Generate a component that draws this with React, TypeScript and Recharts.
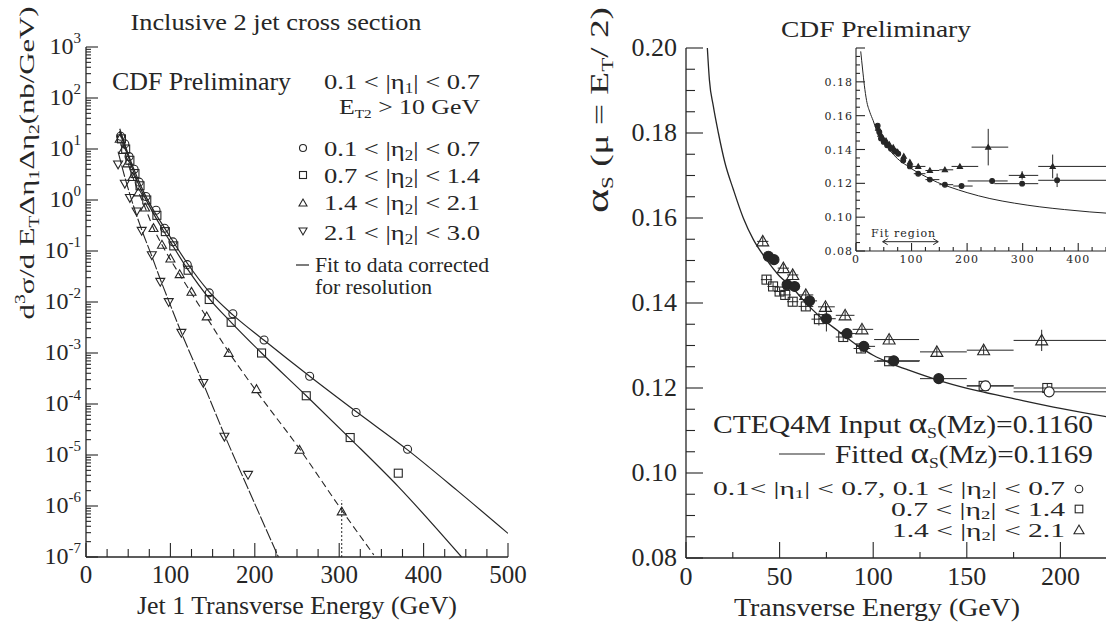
import React from "react";
import { ComposedChart, Scatter, Line, XAxis, YAxis, ErrorBar, ReferenceLine } from "recharts";

const SERIF = '"Liberation Serif", "Times New Roman", serif';
const INSET_FONT = '"DejaVu Serif", serif';
const INK = "#262626";

// ---------- left panel: inclusive 2 jet cross section (nb/GeV) vs jet 1 ET (GeV) ----------
const c1E = [41, 46, 51, 57, 63, 71, 83, 93, 103, 120, 146, 174, 211, 265, 320, 381];
const c1V = [17.8, 12.6, 7.1, 4.0, 2.24, 1.17, 0.63, 0.28, 0.151, 0.054, 0.0151, 5.9e-3, 1.8e-3, 3.5e-4, 6.8e-5, 1.3e-5];
const c2E = [42, 47, 52, 58, 64, 72, 84, 94, 104, 121, 146, 172, 208, 261, 313, 370];
const c2V = [15.8, 10, 6.0, 3.3, 1.9, 1.0, 0.5, 0.24, 0.126, 0.042, 0.0112, 4.0e-3, 1.0e-3, 1.45e-4, 2.2e-5, 4.4e-6];
const c3E = [40, 44, 49, 55, 62, 70, 80, 90, 100, 111, 125, 143, 169, 202, 253, 303];
const c3V = [15.8, 9.5, 5.2, 2.8, 1.4, 0.71, 0.28, 0.132, 0.071, 0.035, 0.0158, 5.2e-3, 1.0e-3, 1.95e-4, 1.26e-5, 7.8e-7];
const c3Err = [0, 0, 0, 0, 0, 0, 0, 0, 0, 0, 0, 0, 0, 0, 0, [6.8e-7, 5e-7]];
const c4E = [38, 46, 52, 60, 66, 78, 88, 98, 113, 139, 164, 192];
const c4V = [5.0, 2.1, 1.1, 0.6, 0.25, 0.083, 0.025, 0.01, 2.5e-3, 2.6e-4, 2.3e-5, 4.1e-6];

// fits
const f1E = [40, 50, 60, 70, 80, 90, 100, 120, 146, 174, 211, 265, 320, 381, 440, 500];
const f1V = [25, 7.9, 2.95, 1.26, 0.63, 0.34, 0.186, 0.0575, 0.0158, 5.6e-3, 1.78e-3, 3.5e-4, 7.1e-5, 1.26e-5, 2.0e-6, 2.9e-7];
const f2E = [40, 50, 60, 70, 80, 90, 100, 120, 146, 172, 208, 261, 313, 370, 445];
const f2V = [22.4, 7.1, 2.5, 1.1, 0.54, 0.28, 0.151, 0.045, 0.0117, 4.0e-3, 1.0e-3, 1.45e-4, 2.1e-5, 2.4e-6, 1.0e-7];
const f3E = [40, 50, 60, 70, 80, 90, 100, 115, 143, 169, 202, 253, 303, 341];
const f3V = [22.4, 5.2, 1.78, 0.71, 0.28, 0.132, 0.068, 0.027, 5.0e-3, 1.05e-3, 1.78e-4, 1.32e-5, 8.3e-7, 1.1e-7];
const f4E = [38, 46, 55, 66, 78, 88, 98, 113, 139, 164, 192, 228];
const f4V = [8.9, 2.8, 0.89, 0.26, 0.079, 0.028, 0.0105, 2.5e-3, 2.5e-4, 2.5e-5, 2.2e-6, 1.0e-7];

// ---------- right panel: alpha_s(mu = ET/2) vs ET (GeV) ----------
const rCircE = [44, 47, 54, 58, 66, 75, 86, 95, 111, 135, 160, 194];
const rCircA = [0.151, 0.1502, 0.1443, 0.1439, 0.1405, 0.1363, 0.1328, 0.1298, 0.1264, 0.1222, 0.1205, 0.1191];
const rCircEx = [[2, 2], [2, 2], [2, 3], [2, 3], [3, 4], [4, 5], [4, 5], [4, 6], [9, 14], [10, 15], [10, 15], [19, 56]];
const rCircEy = [0.001, 0.001, 0.001, 0.001, 0.001, 0.003, 0.001, 0.001, 0.0008, 0.0008, 0.0008, 0.001];
const rSqE = [43, 46.5, 50, 53, 57, 64, 71, 84, 93.5, 108.5, 159, 193];
const rSqA = [0.1455, 0.1439, 0.1427, 0.1419, 0.1403, 0.1392, 0.1362, 0.132, 0.1293, 0.1263, 0.1205, 0.12];
const rSqEx = [[3, 3], [3, 3], [3, 3], [3, 3], [3, 3], [4, 4], [4, 4], [4, 5], [4, 5], [8, 16], [9, 16], [18, 57]];
const rSqEy = [0.001, 0.001, 0.001, 0.001, 0.001, 0.001, 0.0015, 0.001, 0.001, 0.001, 0.001, 0.001];
const rTriE = [41, 52, 57, 64, 74.5, 85, 94, 108.5, 134, 159, 190];
const rTriA = [0.1545, 0.1482, 0.1466, 0.1419, 0.1391, 0.1371, 0.1338, 0.1314, 0.1285, 0.1289, 0.1312];
const rTriEx = [[3, 3], [3, 3], [3, 3], [4, 4], [4, 5], [5, 5], [5, 6], [8, 16], [9, 16], [9, 16], [15, 60]];
const rTriEy = [0.001, 0.001, 0.001, 0.001, 0.001, 0.001, 0.001, 0.001, 0.001, 0.001, 0.0025];
const rFitE = [11.4, 12.5, 14.6, 17.3, 20.8, 25.3, 30.6, 36, 43, 50, 56, 63, 72, 82, 91, 100, 110, 119, 138, 156, 175, 200, 225, 250];
const rFitA = [0.2, 0.1925, 0.1863, 0.18, 0.173, 0.1667, 0.16, 0.1549, 0.1502, 0.1463, 0.144, 0.1405, 0.1366, 0.1332, 0.1302, 0.1277, 0.1257, 0.1242, 0.1214, 0.1193, 0.1175, 0.1152, 0.1132, 0.1115];

// ---------- inset ----------
const iLowE = [39, 42, 45, 50, 56, 63, 70, 76, 85, 97, 112, 133, 160, 190, 245, 299, 362];
const iLowA = [0.1541, 0.1502, 0.1465, 0.1445, 0.1425, 0.1404, 0.139, 0.1375, 0.1335, 0.13, 0.1257, 0.1222, 0.1192, 0.1184, 0.1214, 0.1198, 0.1218];
const iLowEx = [0, 0, 0, 0, 0, 0, 0, 0, 0, 0, [8, 13], [8, 17], [10, 15], [15, 20], [44, 28], [50, 29], [34, 88]];
const iLowEy = [0, 0, 0, 0, 0, 0, 0, 0, 0, 0, 0, 0, 0, 0.0008, 0.0015, 0.0015, 0.004];
const iUpE = [40, 44, 48, 54, 60, 67, 75, 86, 97, 112, 133, 160, 187, 238, 299, 354];
const iUpA = [0.1525, 0.149, 0.147, 0.1452, 0.143, 0.1412, 0.1385, 0.136, 0.1325, 0.13, 0.1276, 0.128, 0.13, 0.1414, 0.1247, 0.13];
const iUpEx = [0, 0, 0, 0, 0, 0, 0, 0, 0, [10, 13], [8, 17], [10, 15], [15, 33], [30, 36], [24, 29], [26, 96]];
const iUpEy = [0, 0, 0, 0, 0, 0, 0, 0, 0, 0, 0, 0, 0.0008, 0.0108, 0.0025, 0.007];
const iFitE = [8.5, 12, 15, 19, 25, 31, 37, 48, 61, 75, 91, 108, 127, 147, 169, 200, 241, 285, 331, 375, 421, 450];
const iFitA = [0.198, 0.187, 0.178, 0.169, 0.162, 0.157, 0.1512, 0.145, 0.1394, 0.1345, 0.1306, 0.127, 0.1237, 0.1205, 0.1178, 0.1145, 0.111, 0.1083, 0.1061, 0.1045, 0.1031, 0.1024];
const fitRegion = [48, 148];

// axis ticks
const decades = [-7, -6, -5, -4, -3, -2, -1, 0, 1, 2];
const minorSteps = [1, 2, 3, 4, 5, 6, 7, 8, 9];
const logTicks = [...decades.flatMap((d) => minorSteps.map((m) => m * Math.pow(10, d))), 1000];
const leftXTicks = Array.from({ length: 21 }, (_, i) => i * 25);
const rightXTicks = Array.from({ length: 11 }, (_, i) => i * 25);
const insetXTicks = Array.from({ length: 19 }, (_, i) => i * 25);
const alphaTicks = Array.from({ length: 25 }, (_, i) => 0.08 + i * 0.005);

const pts = (xs: number[], ys: number[]) => xs.map((x, i) => ({ x, y: ys[i] }));
const errPts = (xs: number[], ys: number[], ex: any[], ey: any[]) =>
  xs.map((x, i) => ({ x, y: ys[i], ex: ex[i], ey: ey[i] }));

const isDecade = (v: number) => Math.abs(Math.log10(v) - Math.round(Math.log10(v))) < 1e-6;
const isHundred = (v: number) => Math.round(v) % 100 === 0;
const isFifty = (v: number) => Math.round(v) % 50 === 0;
const isAlphaMajor = (v: number) => Math.round(v * 1000) % 20 === 0;

type Side = "left" | "right" | "top" | "bottom";
const axisTick =
  (side: Side, isMajor: (v: number) => boolean, majorLen: number, minorLen: number, label?: (x: number, y: number, v: number) => React.ReactNode) =>
  (props: any) => {
    const { x, y, payload } = props;
    const v = payload.value;
    const major = isMajor(v);
    const len = major ? majorLen : minorLen;
    const dx = side === "left" ? len : side === "right" ? -len : 0;
    const dy = side === "bottom" ? -len : side === "top" ? len : 0;
    return (
      <g>
        <line x1={x} y1={y} x2={x + dx} y2={y + dy} stroke={INK} strokeWidth={1.1} />
        {major && label ? label(x, y, v) : null}
      </g>
    );
  };

// symbols
const circ = (cx: number, cy: number, r: number, fill = "none") => (
  <circle cx={cx} cy={cy} r={r} fill={fill} stroke={INK} strokeWidth={1.1} />
);
const sq = (cx: number, cy: number, h: number) => (
  <rect x={cx - h} y={cy - h} width={2 * h} height={2 * h} fill="none" stroke={INK} strokeWidth={1.1} />
);
const triUp = (cx: number, cy: number, h: number, fill = "none") => (
  <polygon points={`${cx - h},${cy + h * 0.75} ${cx + h},${cy + h * 0.75} ${cx},${cy - h}`} fill={fill} stroke={INK} strokeWidth={1.1} />
);
const triDown = (cx: number, cy: number, h: number) => (
  <polygon points={`${cx - h},${cy - h * 0.75} ${cx + h},${cy - h * 0.75} ${cx},${cy + h}`} fill="none" stroke={INK} strokeWidth={1.1} />
);

const LeftPanel = () => {
  const yLabel = (x: number, y: number, v: number) => (
    <text x={x - 5} y={y + 7} textAnchor="end" fontFamily={SERIF} fontSize={24} fill={INK}>
      10<tspan dy={-11} fontSize={15}>{Math.round(Math.log10(v))}</tspan>
    </text>
  );
  const xLabel = (x: number, y: number, v: number) => (
    <text x={x} y={y + 26} textAnchor="middle" fontFamily={SERIF} fontSize={25} fill={INK}>{v}</text>
  );
  const common = { xAxisId: "b", yAxisId: "l", isAnimationActive: false } as const;
  return (
    <ComposedChart width={540} height={622} margin={{ top: 47, right: 32, bottom: 0, left: 0 }}>
      <XAxis xAxisId="b" dataKey="x" type="number" domain={[0, 500]} allowDataOverflow ticks={leftXTicks} interval={0}
        tickSize={0} tickMargin={0} height={65} axisLine={{ stroke: INK, strokeWidth: 1.3 }} tick={axisTick("bottom", isHundred, 14, 8, xLabel)} />
      <XAxis xAxisId="t" orientation="top" dataKey="x" type="number" domain={[0, 500]} allowDataOverflow ticks={leftXTicks} interval={0}
        tickSize={0} tickMargin={0} height={0} axisLine={{ stroke: INK, strokeWidth: 1.3 }} tick={axisTick("top", isHundred, 12, 7)} />
      <YAxis yAxisId="l" dataKey="y" type="number" scale="log" domain={[1e-7, 1e3]} allowDataOverflow ticks={logTicks} interval={0}
        tickSize={0} tickMargin={0} width={86} axisLine={{ stroke: INK, strokeWidth: 1.3 }} tick={axisTick("left", isDecade, 12, 5, yLabel)} />
      <YAxis yAxisId="r" orientation="right" dataKey="y" type="number" scale="log" domain={[1e-7, 1e3]} allowDataOverflow ticks={logTicks} interval={0}
        tickSize={0} tickMargin={0} width={0} axisLine={{ stroke: INK, strokeWidth: 1.3 }} tick={axisTick("right", isDecade, 12, 5)} />

      <Line {...common} data={pts(f1E, f1V)} dataKey="y" type="monotone" dot={false} stroke={INK} strokeWidth={1.2} />
      <Line {...common} data={pts(f2E, f2V)} dataKey="y" type="monotone" dot={false} stroke={INK} strokeWidth={1.2} />
      <Line {...common} data={pts(f3E, f3V)} dataKey="y" type="monotone" dot={false} stroke={INK} strokeWidth={1.1} strokeDasharray="7 4" />
      <Line {...common} data={pts(f4E, f4V)} dataKey="y" type="monotone" dot={false} stroke={INK} strokeWidth={1.1} strokeDasharray="12 2" />

      <Scatter {...common} data={pts(c1E, c1V)} dataKey="y" shape={(p: any) => circ(p.cx, p.cy, 4)} />
      <Scatter {...common} data={pts(c2E, c2V)} dataKey="y" shape={(p: any) => sq(p.cx, p.cy, 4)} />
      <Scatter {...common} data={c3E.map((x, i) => ({ x, y: c3V[i], ey: c3Err[i] }))} dataKey="y" shape={(p: any) => triUp(p.cx, p.cy, 4.5)}>
        <ErrorBar dataKey="ey" direction="y" width={0} stroke={INK} strokeWidth={1} strokeDasharray="2 2" />
      </Scatter>
      <Scatter {...common} data={pts(c4E, c4V)} dataKey="y" shape={(p: any) => triDown(p.cx, p.cy, 4.5)} />
    </ComposedChart>
  );
};

const RightPanel = () => {
  const yLabel = (x: number, y: number, v: number) => (
    <text x={x - 9} y={y + 8} textAnchor="end" fontFamily={SERIF} fontSize={26} fill={INK}>{v.toFixed(2)}</text>
  );
  const xLabel = (x: number, y: number, v: number) =>
    v <= 200 ? (
      <text x={x} y={y + 27} textAnchor="middle" fontFamily={SERIF} fontSize={26} fill={INK}>{v}</text>
    ) : null;
  const common = { isAnimationActive: false } as const;
  return (
    <ComposedChart width={554} height={622} margin={{ top: 48, right: 0, bottom: 0, left: 0 }}>
      <XAxis dataKey="x" type="number" domain={[0, 250]} allowDataOverflow ticks={rightXTicks} interval={0}
        tickSize={0} tickMargin={0} height={64} axisLine={{ stroke: INK, strokeWidth: 1.3 }} tick={axisTick("bottom", isFifty, 16, 6, xLabel)} />
      <XAxis xAxisId="t" orientation="top" type="number" domain={[0, 250]} height={0} tick={false} axisLine={{ stroke: INK, strokeWidth: 1.3 }} />
      <YAxis dataKey="y" type="number" domain={[0.08, 0.2]} allowDataOverflow ticks={alphaTicks} interval={0}
        tickSize={0} tickMargin={0} width={86} axisLine={{ stroke: INK, strokeWidth: 1.3 }} tick={axisTick("left", isAlphaMajor, 17, 9, yLabel)} />

      <Line {...common} data={pts(rFitE, rFitA)} dataKey="y" type="monotone" dot={false} stroke={INK} strokeWidth={1.3} />

      <Scatter {...common} data={errPts(rTriE, rTriA, rTriEx, rTriEy)} dataKey="y" shape={(p: any) => triUp(p.cx, p.cy, 6)}>
        <ErrorBar dataKey="ex" direction="x" width={0} stroke={INK} strokeWidth={1} />
        <ErrorBar dataKey="ey" direction="y" width={0} stroke={INK} strokeWidth={1} />
      </Scatter>
      <Scatter {...common} data={errPts(rSqE, rSqA, rSqEx, rSqEy)} dataKey="y" shape={(p: any) => sq(p.cx, p.cy, 4.5)}>
        <ErrorBar dataKey="ex" direction="x" width={0} stroke={INK} strokeWidth={1} />
        <ErrorBar dataKey="ey" direction="y" width={0} stroke={INK} strokeWidth={1} />
      </Scatter>
      <Scatter {...common} data={errPts(rCircE, rCircA, rCircEx, rCircEy)} dataKey="y"
        shape={(p: any) => circ(p.cx, p.cy, 5, (p.payload?.x ?? 0) < 140 ? INK : "#fff")}>
        <ErrorBar dataKey="ex" direction="x" width={0} stroke={INK} strokeWidth={1} />
        <ErrorBar dataKey="ey" direction="y" width={0} stroke={INK} strokeWidth={1} />
      </Scatter>
    </ComposedChart>
  );
};

const InsetPanel = () => {
  const yLabel = (x: number, y: number, v: number) =>
    v < 0.195 ? (
      <text x={x - 3} y={y + 4} textAnchor="end" fontFamily={INSET_FONT} fontSize={11} letterSpacing={1} fill={INK}>{v.toFixed(2)}</text>
    ) : null;
  const xLabel = (x: number, y: number, v: number) =>
    v < 450 ? (
      <text x={x} y={y + 12} textAnchor="middle" fontFamily={INSET_FONT} fontSize={11} letterSpacing={1} fill={INK}>{v}</text>
    ) : null;
  const arrow = (p: any) => {
    const { x1, y1, x2, y2 } = p;
    return (
      <g stroke={INK} strokeWidth={1} fill="none">
        <line x1={x1} y1={y1} x2={x2} y2={y2} />
        <polyline points={`${x1 + 5},${y1 - 3} ${x1},${y1} ${x1 + 5},${y1 + 3}`} />
        <polyline points={`${x2 - 5},${y2 - 3} ${x2},${y2} ${x2 - 5},${y2 + 3}`} />
      </g>
    );
  };
  const common = { isAnimationActive: false } as const;
  return (
    <ComposedChart width={306} height={276} margin={{ top: 48, right: 0, bottom: 0, left: 0 }}>
      <XAxis dataKey="x" type="number" domain={[0, 450]} allowDataOverflow ticks={insetXTicks} interval={0}
        tickSize={0} tickMargin={0} height={25} axisLine={{ stroke: INK, strokeWidth: 1.1 }} tick={axisTick("bottom", isHundred, 8, 4, xLabel)} />
      <XAxis xAxisId="t" orientation="top" type="number" domain={[0, 450]} ticks={insetXTicks} interval={0}
        tickSize={0} tickMargin={0} height={0} axisLine={{ stroke: INK, strokeWidth: 1.1 }} tick={axisTick("top", isHundred, 8, 4)} />
      <YAxis dataKey="y" type="number" domain={[0.08, 0.2]} allowDataOverflow ticks={alphaTicks} interval={0}
        tickSize={0} tickMargin={0} width={56} axisLine={{ stroke: INK, strokeWidth: 1.1 }} tick={axisTick("left", isAlphaMajor, 9, 4, yLabel)} />
      <YAxis yAxisId="r" orientation="right" type="number" domain={[0.08, 0.2]} ticks={alphaTicks} interval={0}
        tickSize={0} tickMargin={0} width={0} axisLine={{ stroke: INK, strokeWidth: 1.1 }} tick={axisTick("right", isAlphaMajor, 9, 4)} />

      <Line {...common} data={pts(iFitE, iFitA)} dataKey="y" type="monotone" dot={false} stroke={INK} strokeWidth={1} />
      <Scatter {...common} data={errPts(iUpE, iUpA, iUpEx, iUpEy)} dataKey="y" shape={(p: any) => triUp(p.cx, p.cy, 2.6, INK)}>
        <ErrorBar dataKey="ex" direction="x" width={0} stroke={INK} strokeWidth={1} />
        <ErrorBar dataKey="ey" direction="y" width={0} stroke={INK} strokeWidth={1} />
      </Scatter>
      <Scatter {...common} data={errPts(iLowE, iLowA, iLowEx, iLowEy)} dataKey="y" shape={(p: any) => circ(p.cx, p.cy, 2.4, INK)}>
        <ErrorBar dataKey="ex" direction="x" width={0} stroke={INK} strokeWidth={1} />
        <ErrorBar dataKey="ey" direction="y" width={0} stroke={INK} strokeWidth={1} />
      </Scatter>
      <ReferenceLine segment={[{ x: fitRegion[0], y: 0.0855 }, { x: fitRegion[1], y: 0.0855 }]} ifOverflow="visible" shape={arrow} />
    </ComposedChart>
  );
};

const Labels = () => {
  const t = { fontFamily: SERIF, fill: INK } as const;
  const etaRow = (y: number, lo: string, idx: string, hi: string) => (
    <text {...t} x={480} y={y} textAnchor="end" fontSize={22} textLength={156} lengthAdjust="spacingAndGlyphs">
      {`${lo} < |η`}<tspan fontSize={14} dy={4}>{idx}</tspan><tspan dy={-4}>{`| < ${hi}`}</tspan>
    </text>
  );
  return (
    <svg width={1106} height={622} style={{ position: "absolute", left: 0, top: 0, pointerEvents: "none" }}>
      {/* left panel */}
      <text {...t} x={276} y={30} textAnchor="middle" fontSize={23} textLength={291} lengthAdjust="spacingAndGlyphs">Inclusive 2 jet cross section</text>
      <text {...t} transform="translate(34,163) rotate(-90)" textAnchor="middle" fontSize={22} textLength={313} lengthAdjust="spacingAndGlyphs">
        d<tspan fontSize={14} dy={-9}>3</tspan><tspan dy={9}>σ/d E</tspan><tspan fontSize={14} dy={5}>T</tspan>
        <tspan dy={-5}>Δη</tspan><tspan fontSize={14} dy={5}>1</tspan><tspan dy={-5}>Δη</tspan><tspan fontSize={14} dy={5}>2</tspan>
        <tspan dy={-5}>(nb/GeV)</tspan>
      </text>
      <text {...t} x={297} y={614} textAnchor="middle" fontSize={25} textLength={320} lengthAdjust="spacingAndGlyphs">Jet 1 Transverse Energy (GeV)</text>
      <text {...t} x={112} y={90} fontSize={25} textLength={179} lengthAdjust="spacingAndGlyphs">CDF Preliminary</text>
      {etaRow(89, "0.1", "1", "0.7")}
      <text {...t} x={480} y={114} textAnchor="end" fontSize={22} textLength={141} lengthAdjust="spacingAndGlyphs">
        E<tspan fontSize={13} dy={4}>T2</tspan><tspan dy={-4}>{" > 10 GeV"}</tspan>
      </text>
      {etaRow(156, "0.1", "2", "0.7")}
      {etaRow(183, "0.7", "2", "1.4")}
      {etaRow(210, "1.4", "2", "2.1")}
      {etaRow(240, "2.1", "2", "3.0")}
      {circ(303, 148, 3.5)}
      {sq(303, 175, 3.5)}
      {triUp(303, 203, 4)}
      {triDown(303, 231, 4)}
      <line x1={296} y1={265} x2={309} y2={265} stroke={INK} strokeWidth={1.2} />
      <text {...t} x={315} y={272} fontSize={21} textLength={174} lengthAdjust="spacingAndGlyphs">Fit to data corrected</text>
      <text {...t} x={315} y={294} fontSize={21} textLength={117} lengthAdjust="spacingAndGlyphs">for resolution</text>

      {/* right panel */}
      <text {...t} x={876} y={37} textAnchor="middle" fontSize={24} textLength={190} lengthAdjust="spacingAndGlyphs">CDF Preliminary</text>
      <text {...t} transform="translate(608,110) rotate(-90)" textAnchor="middle" fontSize={26} textLength={206} lengthAdjust="spacingAndGlyphs">
        <tspan fontSize={32}>α</tspan><tspan fontSize={16} dy={5}>S</tspan><tspan dy={-5}>{" (μ = E"}</tspan>
        <tspan fontSize={16} dy={5}>T</tspan><tspan dy={-5}>{"/ 2)"}</tspan>
      </text>
      <text {...t} x={877} y={616} textAnchor="middle" fontSize={26} textLength={286} lengthAdjust="spacingAndGlyphs">Transverse Energy (GeV)</text>
      <text {...t} x={1093} y={433} textAnchor="end" fontSize={25} textLength={380} lengthAdjust="spacingAndGlyphs">
        {"CTEQ4M  Input "}<tspan fontSize={30}>α</tspan><tspan fontSize={15} dy={5}>S</tspan><tspan dy={-5}>(Mz)=0.1160</tspan>
      </text>
      <line x1={779} y1={454} x2={825} y2={454} stroke={INK} strokeWidth={1.2} />
      <text {...t} x={1093} y={463} textAnchor="end" fontSize={25} textLength={258} lengthAdjust="spacingAndGlyphs">
        {"Fitted "}<tspan fontSize={30}>α</tspan><tspan fontSize={15} dy={5}>S</tspan><tspan dy={-5}>(Mz)=0.1169</tspan>
      </text>
      <text {...t} x={1065} y={495} textAnchor="end" fontSize={19} textLength={352} lengthAdjust="spacingAndGlyphs">
        {"0.1< |η"}<tspan fontSize={12} dy={3}>1</tspan><tspan dy={-3}>{"| < 0.7, 0.1 < |η"}</tspan>
        <tspan fontSize={12} dy={3}>2</tspan><tspan dy={-3}>{"| < 0.7"}</tspan>
      </text>
      <text {...t} x={1065} y={516} textAnchor="end" fontSize={19} textLength={174} lengthAdjust="spacingAndGlyphs">
        {"0.7 < |η"}<tspan fontSize={12} dy={3}>2</tspan><tspan dy={-3}>{"| < 1.4"}</tspan>
      </text>
      <text {...t} x={1065} y={537} textAnchor="end" fontSize={19} textLength={173} lengthAdjust="spacingAndGlyphs">
        {"1.4 < |η"}<tspan fontSize={12} dy={3}>2</tspan><tspan dy={-3}>{"| < 2.1"}</tspan>
      </text>
      {circ(1079, 489, 3.8)}
      {sq(1079, 509, 3.8)}
      {triUp(1079, 530, 5)}

      {/* inset */}
      <text {...t} x={871} y={237} fontFamily={INSET_FONT} fontSize={11} letterSpacing={1}>Fit region</text>
    </svg>
  );
};

export default function App() {
  return (
    <div style={{ position: "fixed", left: 0, top: 0, width: 1106, height: 622, overflow: "hidden", background: "#fff" }}>
      <div style={{ position: "absolute", left: 0, top: 0 }}>
        <LeftPanel />
      </div>
      <div style={{ position: "absolute", left: 600, top: 0 }}>
        <RightPanel />
      </div>
      <div style={{ position: "absolute", left: 800, top: 0 }}>
        <InsetPanel />
      </div>
      <Labels />
    </div>
  );
}
